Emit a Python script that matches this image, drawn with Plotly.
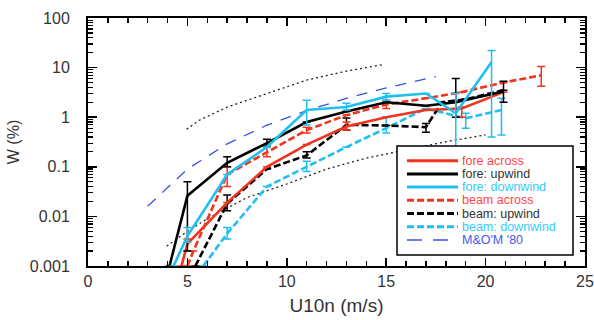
import plotly.graph_objects as go

# ---------------- data ----------------
fore_across_x = [4.7, 5.0, 7.0, 9.0, 11.0, 13.0, 15.0, 17.0, 18.8, 20.9]
fore_across_y = [0.001, 0.0028, 0.019, 0.1, 0.28, 0.65, 1.0, 1.4, 1.5, 3.2]
fore_across_lo = [None, 0.002, None, None, None, 0.55, None, None, 1.0, None]
fore_across_hi = [None, 0.0035, None, None, None, 0.8, None, None, 1.6, None]

fore_upwind_x = [4.1, 5.0, 7.0, 9.0, 11.0, 13.0, 15.0, 17.0, 18.5, 20.9]
fore_upwind_y = [0.001, 0.026, 0.12, 0.3, 0.8, 1.3, 2.0, 1.7, 2.0, 3.3]
fore_upwind_lo = [None, 0.002, 0.1, 0.26, None, None, None, None, 1.0, 2.0]
fore_upwind_hi = [None, 0.05, 0.16, 0.36, None, None, None, None, 6.0, 5.3]

fore_downwind_x = [4.3, 5.0, 7.0, 9.0, 11.0, 13.0, 15.0, 17.0, 18.5, 20.3]
fore_downwind_y = [0.001, 0.004, 0.07, 0.25, 1.4, 1.6, 2.6, 3.0, 1.2, 13.0]
fore_downwind_lo = [None, 0.003, None, None, 0.7, 1.4, 2.2, None, 0.1, 0.4]
fore_downwind_hi = [None, 0.006, None, None, 2.2, 1.9, 3.0, None, 3.0, 22.0]

beam_across_x = [5.0, 5.3, 7.0, 9.0, 11.0, 13.0, 15.0, 17.0, 18.8, 20.9, 22.8]
beam_across_y = [0.001, 0.002, 0.07, 0.2, 0.55, 1.1, 1.8, 2.4, 3.2, 5.0, 7.0]
beam_across_lo = [None, None, 0.04, 0.16, 0.48, None, 1.5, None, None, None, 4.2]
beam_across_hi = [None, None, 0.1, 0.25, 0.63, None, 2.2, None, None, None, 10.5]

beam_upwind_x = [5.4, 7.0, 9.0, 11.0, 13.0, 15.0, 17.0, 17.8, 19.0, 20.9]
beam_upwind_y = [0.001, 0.018, 0.09, 0.17, 0.7, 0.68, 0.63, 2.0, 2.3, 3.5]
beam_upwind_lo = [None, 0.013, None, 0.15, 0.55, None, 0.5, None, None, None]
beam_upwind_hi = [None, 0.027, None, 0.2, 0.96, None, 0.75, None, None, None]

beam_downwind_x = [5.8, 7.0, 9.0, 11.0, 13.0, 15.0, 17.0, 19.0, 20.8]
beam_downwind_y = [0.001, 0.0045, 0.04, 0.1, 0.25, 0.6, 1.5, 0.95, 1.4]
beam_downwind_lo = [None, 0.0035, None, 0.08, None, 0.48, None, 0.6, 0.44]
beam_downwind_hi = [None, 0.006, None, 0.13, None, 1.0, None, 1.2, 2.4]

mom80_x = [3.0, 5.0, 7.0, 9.0, 11.0, 13.0, 15.0, 17.5]
mom80_y = [0.016, 0.09, 0.29, 0.69, 1.36, 2.4, 3.9, 6.6]

dot_upper_x = [4.96, 5.6, 7.0, 9.0, 11.0, 13.0, 14.85]
dot_upper_y = [0.57, 0.87, 1.6, 3.0, 5.6, 8.5, 11.5]

dot_lower_x = [3.96, 5.0, 6.0, 8.0, 10.0, 12.0, 14.0, 16.0, 18.0, 20.0]
dot_lower_y = [0.0025, 0.005, 0.009, 0.024, 0.045, 0.09, 0.15, 0.22, 0.32, 0.44]

x_ticks = [0, 5, 10, 15, 20, 25]
y_ticks = [0.001, 0.01, 0.1, 1, 10, 100]
y_ticklabels = ["0.001", "0.01", "0.1", "1", "10", "100"]

legend_names = ["fore across", "fore: upwind", "fore: downwind", "beam across",
                "beam: upwind", "beam: downwind", "M&O'M '80"]

# ---------------- styles ----------------
RED = "#f0341e"
BLACK = "#000000"
CYAN = "#20bff0"
BLUE = "#3c50e6"
RED_TXT = "#ff4646"
GRAY_TXT = "#333333"
CYAN_TXT = "#33ccff"
BLUE_TXT = "#4b55e8"

fig = go.Figure()


def err(y, lo, hi):
    plus = [None if h is None else h - v for v, h in zip(y, hi)]
    minus = [None if l is None else v - l for v, l in zip(y, lo)]
    return plus, minus


def add_series(x, y, lo, hi, color, dash):
    plus, minus = err(y, lo, hi)
    fig.add_trace(go.Scatter(
        x=x, y=y, mode="lines",
        line=dict(color=color, width=2.6, dash=dash),
        error_y=dict(type="data", symmetric=False, array=plus, arrayminus=minus,
                     color=color, thickness=1.5, width=4),
        showlegend=False, hoverinfo="x+y"))


# dotted reference curves
fig.add_trace(go.Scatter(x=dot_upper_x, y=dot_upper_y, mode="lines",
                         line=dict(color="#222222", width=1.3, dash="2px,3px"),
                         showlegend=False))
fig.add_trace(go.Scatter(x=dot_lower_x, y=dot_lower_y, mode="lines",
                         line=dict(color="#222222", width=1.3, dash="2px,3px"),
                         showlegend=False))
fig.add_trace(go.Scatter(x=mom80_x, y=mom80_y, mode="lines",
                         line=dict(color=BLUE, width=1.3, dash="11px,9px"),
                         showlegend=False))

DASH = "7px,3px"
add_series(beam_downwind_x, beam_downwind_y, beam_downwind_lo, beam_downwind_hi, CYAN, DASH)
add_series(beam_upwind_x, beam_upwind_y, beam_upwind_lo, beam_upwind_hi, BLACK, DASH)
add_series(beam_across_x, beam_across_y, beam_across_lo, beam_across_hi, RED, DASH)
add_series(fore_across_x, fore_across_y, fore_across_lo, fore_across_hi, RED, "solid")
add_series(fore_upwind_x, fore_upwind_y, fore_upwind_lo, fore_upwind_hi, BLACK, "solid")
add_series(fore_downwind_x, fore_downwind_y, fore_downwind_lo, fore_downwind_hi, CYAN, "solid")

# ---------------- layout ----------------
W, H = 594, 320
L, R, T, B = 88, 9, 18, 54
PW, PH = W - L - R, H - T - B


def px(xp):
    return (xp - L) / PW


def py(yp):
    return (H - B - yp) / PH


fig.update_layout(
    width=W, height=H,
    margin=dict(l=L, r=R, t=T, b=B, pad=0, autoexpand=False),
    paper_bgcolor="white", plot_bgcolor="white",
    font=dict(family="Liberation Sans, Arial, sans-serif", color="#333333"),
    showlegend=False,
)

fig.update_xaxes(
    range=[0, 25], tickvals=x_ticks, ticktext=[str(v) for v in x_ticks],
    automargin=False,
    showgrid=False, zeroline=False,
    showline=True, linecolor="black", linewidth=2, mirror="ticks",
    ticks="inside", ticklen=8, tickwidth=1.5, tickcolor="black",
    minor=dict(dtick=1, ticks="inside", ticklen=5, tickwidth=1.5, tickcolor="black", showgrid=False),
    tickfont=dict(size=16, color="#333333"),
    ticklabelstandoff=0,
    title=dict(text="U10n (m/s)", font=dict(size=19, color="#333333"), standoff=9),
)
fig.update_yaxes(
    type="log", range=[-3, 2], tickvals=y_ticks, ticktext=y_ticklabels,
    automargin=False,
    showgrid=False, zeroline=False,
    showline=True, linecolor="black", linewidth=2, mirror="ticks",
    ticks="inside", ticklen=9, tickwidth=1.5, tickcolor="black",
    minor=dict(dtick="D1", ticks="inside", ticklen=5, tickwidth=1.2, tickcolor="black", showgrid=False),
    tickfont=dict(size=16, color="#333333"),
    ticklabelstandoff=13,
    title=dict(text="W (%)", font=dict(size=16, color="#333333"), standoff=6),
)

# ---------------- legend (drawn box) ----------------
shapes = [dict(type="rect", xref="paper", yref="paper",
               x0=px(397), x1=px(573), y0=py(255), y1=py(146),
               line=dict(color="black", width=1.5), fillcolor="white", layer="above")]
annotations = []
leg_styles = [(RED, "solid", RED_TXT), (BLACK, "solid", GRAY_TXT), (CYAN, "solid", CYAN_TXT),
              (RED, DASH, RED_TXT), (BLACK, DASH, GRAY_TXT), (CYAN, DASH, CYAN_TXT),
              (BLUE, "15px,11px", BLUE_TXT)]
for i, (name, (lc, ld, tc)) in enumerate(zip(legend_names, leg_styles)):
    yy = 160.7 + 13.2 * i
    lw = 1.5 if i == 6 else 3
    shapes.append(dict(type="line", xref="paper", yref="paper",
                       x0=px(407), x1=px(458), y0=py(yy), y1=py(yy),
                       line=dict(color=lc, width=lw, dash=ld), layer="above"))
    annotations.append(dict(xref="paper", yref="paper", x=px(461), y=py(yy),
                            xanchor="left", yanchor="middle", showarrow=False,
                            borderpad=0,
                            text=name, font=dict(size=12.5, color=tc,
                                                 family="Liberation Sans, Arial, sans-serif")))
fig.update_layout(shapes=shapes, annotations=annotations)

fig.write_html("out.html",
               config={"displayModeBar": False, "staticPlot": True},
               post_script="document.body.style.margin='0';document.body.style.padding='0';")
